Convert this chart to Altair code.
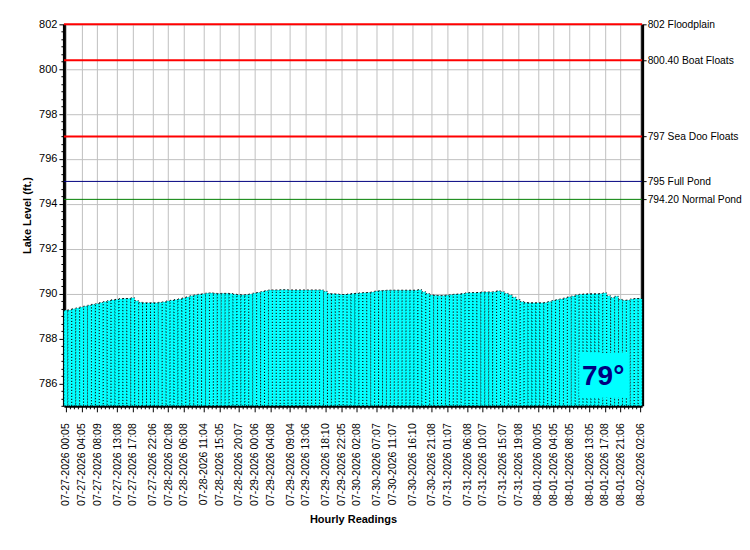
import altair as alt
import pandas as pd

# ---------------- data ----------------
levels = [
    789.26, 789.27, 789.32, 789.36, 789.40, 789.44, 789.48, 789.52, 789.55, 789.60,
    789.64, 789.68, 789.72, 789.74, 789.77, 789.78, 789.78, 789.81, 789.68, 789.61,
    789.59, 789.59, 789.59, 789.59, 789.61,
    789.63, 789.67, 789.70, 789.73, 789.76, 789.80, 789.85, 789.90, 789.94, 789.97,
    789.99, 790.02, 790.03, 790.01, 790.00, 790.01, 790.01, 790.00, 789.97, 789.95,
    789.94, 789.95, 789.98, 790.02, 790.05,
    790.09, 790.13, 790.16, 790.16, 790.16, 790.17, 790.17, 790.16, 790.16, 790.16,
    790.16, 790.16, 790.16, 790.16, 790.16, 790.16, 790.10, 790.00, 789.99, 789.98,
    789.96, 789.96, 789.98, 790.00, 790.01,
    790.03, 790.04, 790.05, 790.07, 790.11, 790.13, 790.14, 790.15, 790.15, 790.15,
    790.15, 790.15, 790.15, 790.15, 790.15, 790.17, 790.08, 790.00, 789.94, 789.92,
    789.91, 789.91, 789.93, 789.95, 789.97,
    789.98, 790.00, 790.03, 790.04, 790.04, 790.05, 790.07, 790.07, 790.07, 790.08,
    790.12, 790.08, 790.01, 789.94, 789.84, 789.73, 789.64, 789.60, 789.59, 789.59,
    789.59, 789.59, 789.60, 789.64, 789.69,
    789.73, 789.76, 789.80, 789.85, 789.89, 789.94, 789.97, 789.98, 789.99, 789.99,
    789.99, 790.00, 790.03, 789.90, 789.82, 789.88, 789.74, 789.70, 789.71, 789.76,
    789.78, 789.78,
]

label_idx = [0, 4, 8, 13, 17, 22, 26, 30, 35, 39, 44, 48, 52, 57, 61, 66, 70, 74,
             79, 83, 88, 93, 97, 102, 106, 111, 115, 120, 124, 128, 133, 137, 141, 146]
label_txt = [
    "07-27-2026 00:05", "07-27-2026 04:05", "07-27-2026 08:09", "07-27-2026 13:08",
    "07-27-2026 17:08", "07-27-2026 22:06", "07-28-2026 02:08", "07-28-2026 06:08",
    "07-28-2026 11:04", "07-28-2026 15:05", "07-28-2026 20:07", "07-29-2026 00:06",
    "07-29-2026 04:08", "07-29-2026 09:04", "07-29-2026 13:06", "07-29-2026 18:10",
    "07-29-2026 22:05", "07-30-2026 02:08", "07-30-2026 07:07", "07-30-2026 11:07",
    "07-30-2026 16:10", "07-30-2026 21:08", "07-31-2026 01:07", "07-31-2026 06:08",
    "07-31-2026 10:07", "07-31-2026 15:07", "07-31-2026 19:08", "08-01-2026 00:05",
    "08-01-2026 04:05", "08-01-2026 08:05", "08-01-2026 13:05", "08-01-2026 17:08",
    "08-01-2026 21:06", "08-02-2026 02:06",
]

ref_levels = [802, 800.4, 797, 795, 794.2]
ref_names = ["802 Floodplain", "800.40 Boat Floats", "797 Sea Doo Floats",
             "795 Full Pond", "794.20 Normal Pond"]
ref_colors = ["#ff0000", "#ff0000", "#ff0000", "#000080", "#008000"]
ref_widths = [2, 2, 2, 1, 1]

y_min, y_max = 785, 802
temp_text = "79°"

# ---------------- tables ----------------
n = len(levels)
df = pd.DataFrame({"i": list(range(n)), "level": levels})
df["x0"] = df["i"] - 0.5
df["x1"] = df["i"] + 0.5
df["base"] = y_min

ref_df = pd.DataFrame({"level": ref_levels, "name": ref_names,
                       "color": ref_colors, "w": ref_widths})

FONT = "Liberation Sans"
idx_js = "[" + ",".join(str(v) for v in label_idx) + "]"
txt_js = "[" + ",".join("'" + t + "'" for t in label_txt) + "]"
x_test = f"indexof({idx_js}, datum.value) >= 0"
x_label_expr = f"{x_test} ? {txt_js}[indexof({idx_js}, datum.value)] : ''"

y_ticks = [round(y_min + k / 3, 4) for k in range(int((y_max - y_min) * 3) + 1)]
y_test = "abs(datum.value - 2*round(datum.value/2)) < 0.01"

lv_js = "[" + ",".join(str(v) for v in ref_levels) + "]"
nm_js = "[" + ",".join("'" + t + "'" for t in ref_names) + "]"

xscale = alt.Scale(domain=[-0.5, n - 0.5], nice=False, zero=False)
yscale = alt.Scale(domain=[y_min, y_max], nice=False, zero=False)

x_axis = alt.Axis(
    values=list(range(n)), labelExpr=x_label_expr,
    tickSize={"condition": {"test": x_test, "value": 6}, "value": 3},
    grid=True, gridColor="#c0c0c0", gridWidth=1,
    gridOpacity={"condition": {"test": x_test, "value": 1}, "value": 0},
    labelAngle=-90, labelFontSize=10.5, labelPadding=11,
    labelOverlap=False, labelFlush=False,
    domainColor="black", domainWidth=3, tickColor="black",
    title="Hourly Readings", titleFontWeight="bold", titleFontSize=11, titlePadding=8,
)
y_axis = alt.Axis(
    orient="left", values=y_ticks,
    labelExpr=f"{y_test} ? format(datum.value, 'd') : ''",
    tickSize={"condition": {"test": y_test, "value": 5}, "value": 3},
    grid=True, gridColor="#c0c0c0", gridWidth=1,
    gridOpacity={"condition": {"test": y_test, "value": 1}, "value": 0},
    labelFontSize=11, labelPadding=2, labelOverlap=False, labelFlush=False,
    domainColor="black", domainWidth=3, tickColor="black",
    title="Lake Level (ft.)", titleFontWeight="bold", titleFontSize=11, titlePadding=6,
)
r_axis = alt.Axis(
    orient="right", values=ref_levels,
    labelExpr=f"{nm_js}[indexof({lv_js}, datum.value)]",
    tickSize=4, grid=False, labelFontSize=10.3, labelPadding=1,
    labelOverlap=False, labelFlush=False,
    domainColor="black", domainWidth=3, tickColor="black", title=None,
)

bars = alt.Chart(df).mark_bar(
    fill="#00ffff", stroke="#000000", strokeWidth=1, strokeDash=[1, 2]
).encode(
    x=alt.X("x0:Q", scale=xscale, axis=x_axis),
    x2="x1:Q",
    y=alt.Y("level:Q", scale=yscale, axis=y_axis),
    y2="base:Q",
)

rules = alt.Chart(ref_df).mark_rule().encode(
    y=alt.Y("level:Q", scale=yscale, axis=r_axis),
    color=alt.Color("color:N", scale=None),
    strokeWidth=alt.StrokeWidth("w:Q", scale=None),
)

ann_df = pd.DataFrame({"t": [temp_text]})
box = alt.Chart(ann_df).mark_rect(color="#00ffff").encode(
    x=alt.value(516), x2=alt.value(564), y=alt.value(329), y2=alt.value(374)
)
temp = alt.Chart(ann_df).mark_text(
    font=FONT, fontSize=28, fontWeight="bold", color="#000080",
    align="center", baseline="middle"
).encode(x=alt.value(540), y=alt.value(353), text="t:N")

chart = alt.layer(bars, rules, box, temp).resolve_axis(y="independent").properties(
    width=579, height=382,
    autosize=alt.AutoSizeParams(type="none"),
    padding={"left": 56, "top": 16, "right": 100, "bottom": 124},
).configure_view(
    stroke="black", strokeWidth=1
).configure_axis(
    labelFont=FONT, titleFont=FONT, labelColor="black", titleColor="black"
).configure(background="white")

chart.save("out.html", embed_options={"renderer": "svg", "actions": False})
